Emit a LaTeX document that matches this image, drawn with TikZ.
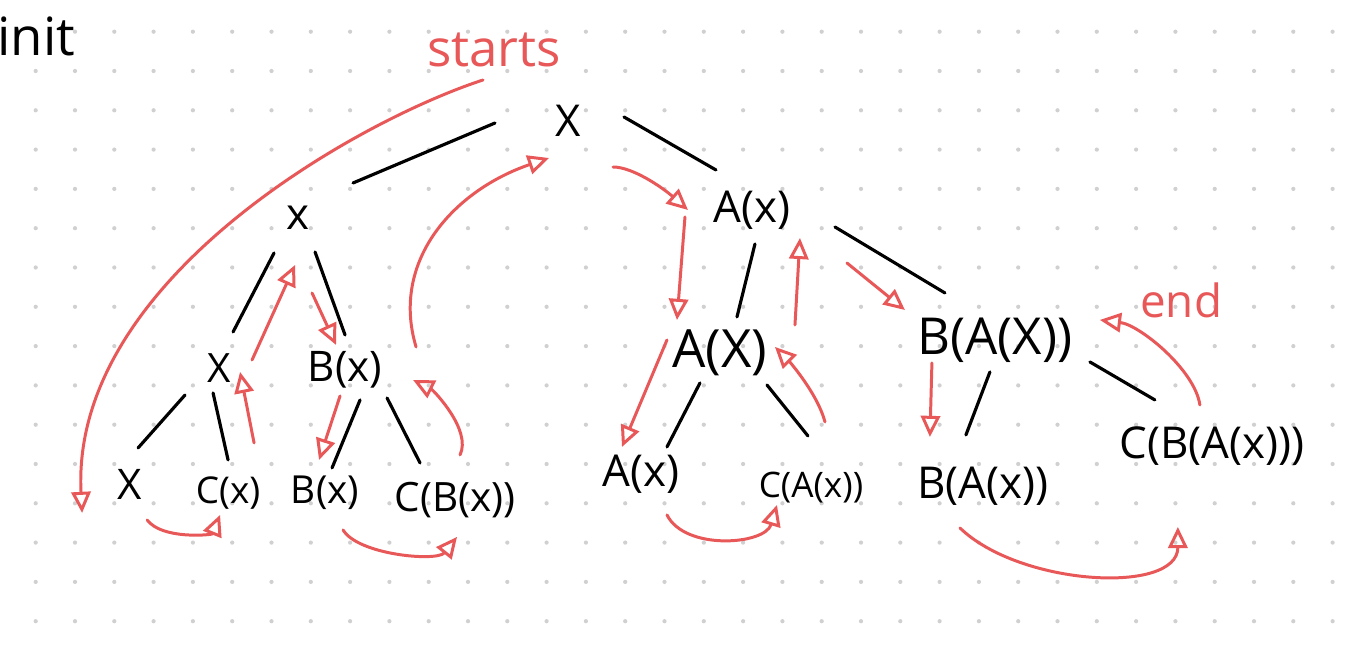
\documentclass[tikz,border=0pt]{standalone}
\usepackage{fontspec}
\setmainfont{Open Sans}
\usetikzlibrary{positioning,arrows.meta}
\definecolor{pen}{RGB}{232,88,88}
\definecolor{dotgray}{RGB}{208,208,208}

\begin{document}
\begin{tikzpicture}[
	x=0.02cm, y=-0.02cm,
	on grid,
	mynode/.style={inner sep=0pt,font=\fontsize{#1}{#1}\selectfont},
	mynode/.default=24,
	myline/.style={line width=1.8pt,line cap=round},
	myarrow/.style={pen,line width=1.7pt,line cap=round,line join=round,-{Triangle[open,length=12pt,width=11pt]}}
	]
	\fill[white] (0,0) rectangle (1345,648);
	\useasboundingbox (0,0) rectangle (1345,648);
	\foreach \i in {0,...,33}
		\foreach \j in {0,...,15}
			\fill[dotgray] (35.7+39.3*\i,31.7+39.3*\j) circle (1.2pt);

	% labels
	\node[mynode=30,anchor=base west] (init) at (-3,56) {init};
	\node[mynode=29,pen,anchor=base west] (starts) at (427,67) {starts};
	\node[mynode=26,pen,anchor=base west] (ends) at (1140,318) {end};

	% tree
	\node[mynode=25] (root) at (568,121) {X};
	\node[mynode=25,below left=1.94cm and 5.4cm of root] (x1) {x};
	\node[mynode=25,below right=1.78cm and 3.68cm of root] (a1) {A(x)};
	\node[mynode=23,below left=3.0cm and 1.58cm of x1] (x2) {X};
	\node[mynode=24,below right=3.04cm and 0.94cm of x1] (b2) {B(x)};
	\node[mynode=30,below left=2.86cm and 0.64cm of a1] (a2) {A(X)};
	\node[mynode=29,below right=2.6cm and 4.86cm of a1] (ba2) {B(A(X))};
	\node[mynode=24,below left=2.34cm and 1.78cm of x2] (x3) {X};
	\node[mynode=21,below right=2.5cm and 0.18cm of x2] (c3) {C(x)};
	\node[mynode=22,below left=2.46cm and 0.4cm of b2] (b3) {B(x)};
	\node[mynode=23,below right=2.6cm and 2.2cm of b2] (cb3) {C(B(x))};
	\node[mynode=25,below left=2.42cm and 1.58cm of a2] (a3) {A(x)};
	\node[mynode=20,below right=2.7cm and 1.82cm of a2] (ca3) {C(A(x))};
	\node[mynode=25,below left=2.92cm and 0.24cm of ba2] (ba3) {B(A(x))};
	\node[mynode=25,below right=2.12cm and 4.34cm of ba2] (cba3) {C(B(A(x)))};

	\path[myline]
	([shift={(-73,2)}]root.center) edge ([shift={(55,-35)}]x1.center)
	([shift={(56,-4)}]root.center) edge ([shift={(-36,-40)}]a1.center)
	([shift={(-24,35)}]x1.center) edge ([shift={(14,-36)}]x2.center)
	([shift={(17,34)}]x1.center) edge ([shift={(0,-35)}]b2.center)
	([shift={(-34,27)}]x2.center) edge ([shift={(8,-37)}]x3.center)
	([shift={(-6,25)}]x2.center) edge ([shift={(0,-33)}]c3.center)
	([shift={(15,30)}]b2.center) edge ([shift={(7,-25)}]b3.center)
	([shift={(42,28)}]b2.center) edge ([shift={(-35,-37)}]cb3.center)
	([shift={(3,34)}]a1.center) edge ([shift={(17,-36)}]a2.center)
	([shift={(83,17)}]a1.center) edge ([shift={(-50,-47)}]ba2.center)
	([shift={(-20,30)}]a2.center) edge ([shift={(26,-27)}]a3.center)
	([shift={(47,32)}]a2.center) edge ([shift={(-3,-52)}]ca3.center)
	([shift={(-5,32)}]ba2.center) edge ([shift={(-17,-51)}]ba3.center)
	([shift={(95,22)}]ba2.center) edge ([shift={(-57,-46)}]cba3.center);

	% walk
	\path[myarrow]
	([shift={(14,75)}]x1.center) edge ([shift={(-9,-25)}]b2.center)
	([shift={(33,-8)}]x2.center) edge ([shift={(-3,47)}]x1.center)
	([shift={(26,-50)}]c3.center) edge ([shift={(21,4)}]x2.center)
	([shift={(-5,26)}]b2.center) edge ([shift={(-6,-33)}]b3.center)
	([shift={(-67,7)}]a1.center) edge ([shift={(-43,-33)}]a2.center)
	([shift={(75,-28)}]a2.center) edge ([shift={(48,28)}]a1.center)
	([shift={(95,53)}]a1.center) edge ([shift={(-90,-30)}]ba2.center)
	([shift={(-53,-13)}]a2.center) edge ([shift={(-19,-27)}]a3.center)
	([shift={(-63,23)}]ba2.center) edge ([shift={(-53,-49)}]ba3.center);
	\draw[myarrow] ([shift={(56,13)}]starts.base west) .. controls +(-123,40) and +(-12,-233) .. ([shift={(-48,28)}]x3.center);
	\draw[myarrow] ([shift={(71,-23)}]b2.center) .. controls +(-26,-87) and +(-94,32) .. ([shift={(-19,37)}]root.center);
	\draw[myarrow] ([shift={(45,46)}]root.center) .. controls +(20,0) and +(-25,-22) .. ([shift={(-64,0)}]a1.center);
	\draw[myarrow] ([shift={(14,-66)}]ca3.center) .. controls +(-8,-30) and +(12,12) .. ([shift={(55,-6)}]a2.center);
	\draw[myarrow] ([shift={(26,41)}]a3.center) .. controls +(18,36) and +(-12,40) .. ([shift={(-34,17)}]ca3.center);
	\draw[myarrow] ([shift={(-12,-41)}]cba3.center) .. controls +(-5,-35) and +(40,5) .. ([shift={(105,-20)}]ba2.center);
	\draw[myarrow] ([shift={(-23,42)}]ba3.center) .. controls +(60,58) and +(0,68) .. ([shift={(-34,81)}]cba3.center);
	\draw[myarrow] ([shift={(5,-45)}]cb3.center) .. controls +(12,-25) and +(20,10) .. ([shift={(68,10)}]b2.center);
	\draw[myarrow] ([shift={(17,35)}]x3.center) .. controls +(15,20) and +(-8,20) .. ([shift={(-8,22)}]c3.center);
	\draw[myarrow] ([shift={(18,37)}]b3.center) .. controls +(15,25) and +(-20,25) .. ([shift={(2,37)}]cb3.center);
\end{tikzpicture}
\end{document}
